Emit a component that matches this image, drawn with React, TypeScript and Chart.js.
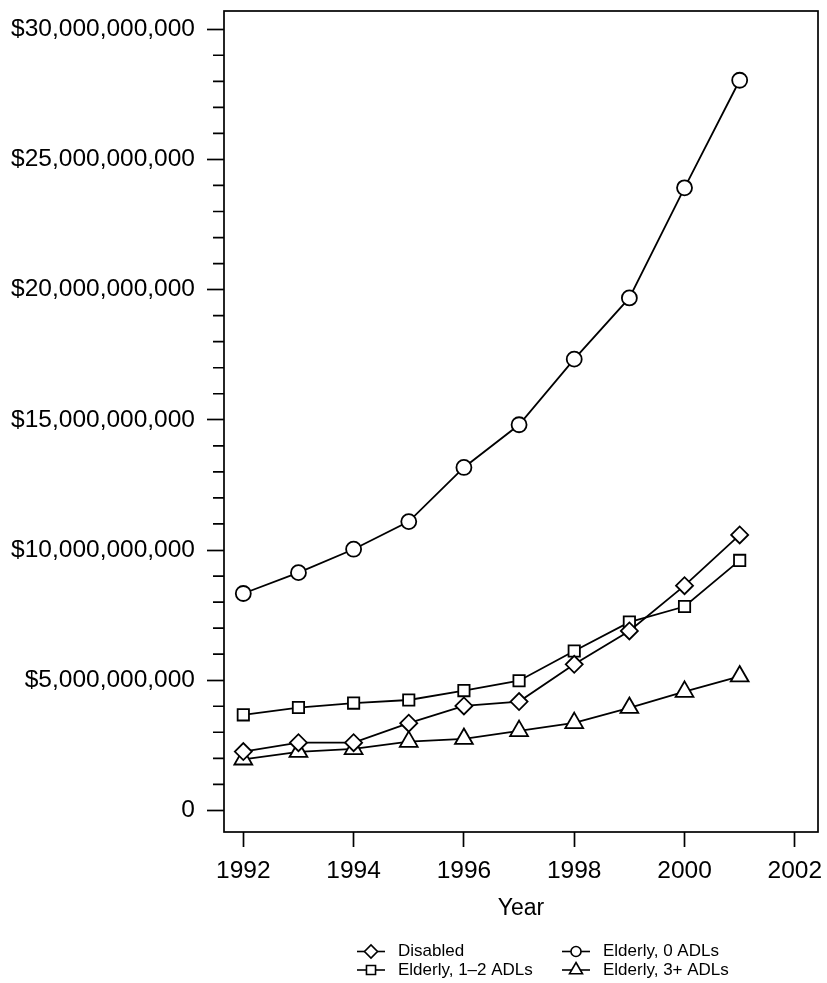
import React, { useEffect, useRef } from 'react';
import { Chart, registerables } from 'chart.js';
import { drawPoint } from 'chart.js/helpers';

Chart.register(...registerables);

// Values in billions of dollars
const years = [1992, 1993, 1994, 1995, 1996, 1997, 1998, 1999, 2000, 2001];
const disabled = [2.26, 2.6, 2.6, 3.35, 4.01, 4.18, 5.61, 6.89, 8.63, 10.58];
const elderly0 = [8.33, 9.13, 10.03, 11.09, 13.17, 14.81, 17.33, 19.68, 23.91, 28.04];
const elderly12 = [3.67, 3.95, 4.12, 4.24, 4.6, 4.98, 6.12, 7.23, 7.83, 9.6];
const elderly3 = [1.96, 2.25, 2.36, 2.64, 2.75, 3.05, 3.36, 3.94, 4.56, 5.15];

const xTickValues = [1992, 1994, 1996, 1998, 2000, 2002];
const yTickValues = Array.from({ length: 31 }, (_, i) => i); // 0..30 billion
const yMajorStep = 5;

const seriesLabels = ['Disabled', 'Elderly, 0 ADLs', 'Elderly, 1\u20132 ADLs', 'Elderly, 3+ ADLs'];
const seriesValues = [disabled, elderly0, elderly12, elderly3];
const seriesStyles = ['rectRot', 'circle', 'rect', 'triangle'];
const seriesRadius = [8.5, 7.5, 8, 10.3];
const legendRadius = [6.5, 5, 6.4, 7.5];

const FONT = '"Liberation Sans", Arial, Helvetica, sans-serif';

function fmtDollars(v: number): string {
  if (v === 0) return '0';
  const dollars = Math.round(v * 1e9);
  return '$' + dollars.toLocaleString('en-US');
}

const framePlugin = {
  id: 'framePlugin',
  afterDraw(chart: any) {
    const { ctx, chartArea } = chart;
    const y = chart.scales.y;
    ctx.save();
    ctx.strokeStyle = '#000';
    ctx.lineWidth = 1.7;
    ctx.strokeRect(chartArea.left, chartArea.top, chartArea.right - chartArea.left, chartArea.bottom - chartArea.top);
    // minor ticks on y axis
    ctx.beginPath();
    for (const v of yTickValues) {
      if (v % yMajorStep === 0) continue;
      const py = y.getPixelForValue(v);
      ctx.moveTo(chartArea.left - 11, py);
      ctx.lineTo(chartArea.left, py);
    }
    ctx.stroke();

    // legend (two columns)
    const cx = (chartArea.left + chartArea.right) / 2;
    const cols = [cx - 150, cx + 55];
    const rows = [951.5, 970];
    const order = [0, 1, 2, 3];
    ctx.font = '17px ' + FONT;
    ctx.textBaseline = 'middle';
    ctx.textAlign = 'left';
    order.forEach((di, k) => {
      const col = cols[k % 2];
      const row = rows[Math.floor(k / 2)];
      const ds = chart.data.datasets[di];
      ctx.strokeStyle = '#000';
      ctx.lineWidth = 1.6;
      ctx.beginPath();
      ctx.moveTo(col - 14, row);
      ctx.lineTo(col + 14, row);
      ctx.stroke();
      ctx.fillStyle = '#fff';
      ctx.strokeStyle = '#000';
      ctx.lineWidth = 1.6;
      drawPoint(ctx, { pointStyle: seriesStyles[di], rotation: 0, radius: legendRadius[di], borderWidth: 1.6 } as any, col, row);
      ctx.fillStyle = '#000';
      ctx.fillText(ds.label, col + 27, row);
    });
    ctx.restore();
  },
};

export default function App() {
  const ref = useRef<HTMLCanvasElement | null>(null);
  useEffect(() => {
    if (!ref.current) return;
    const chart = new Chart(ref.current, {
      type: 'line',
      data: {
        datasets: seriesLabels.map((label, i) => ({
          label,
          data: years.map((yr, j) => ({ x: yr, y: seriesValues[i][j] })),
          borderColor: '#000',
          borderWidth: 1.8,
          backgroundColor: '#fff',
          pointStyle: seriesStyles[i] as any,
          pointRadius: seriesRadius[i],
          pointBackgroundColor: '#fff',
          pointBorderColor: '#000',
          pointBorderWidth: 1.8,
          tension: 0,
          fill: false,
        })),
      },
      options: {
        animation: false,
        responsive: false,
        events: [],
        layout: { autoPadding: false, padding: { left: 0, top: 11, right: 9, bottom: 60.2 } },
        plugins: { legend: { display: false }, tooltip: { enabled: false }, title: { display: false } },
        scales: {
          x: {
            type: 'linear',
            min: 1991.65,
            max: 2002.42,
            afterBuildTicks: (s: any) => {
              s.ticks = xTickValues.map((v) => ({ value: v }));
            },
            afterFit: (s: any) => {
              s.height = 90.8;
              s.paddingLeft = 0;
              s.paddingRight = 0;
            },
            border: { display: false },
            grid: {
              display: true,
              drawOnChartArea: false,
              drawTicks: true,
              tickLength: 15,
              tickColor: '#000',
              tickWidth: 1.7,
            },
            ticks: {
              autoSkip: false,
              maxRotation: 0,
              padding: 9.5,
              color: '#000',
              font: { size: 24.5, family: FONT },
              callback: (v: any) => String(v),
            },
            title: {
              display: true,
              text: 'Year',
              color: '#000',
              font: { size: 23, family: FONT },
              padding: { top: 0, bottom: 0 },
            },
          },
          y: {
            type: 'linear',
            min: -0.83,
            max: 30.7,
            afterBuildTicks: (s: any) => {
              s.ticks = yTickValues.map((v) => ({ value: v }));
            },
            afterFit: (s: any) => {
              s.width = 224;
              s.paddingTop = 0;
              s.paddingBottom = 0;
            },
            border: { display: false },
            grid: {
              display: true,
              drawOnChartArea: false,
              drawTicks: true,
              tickLength: 17,
              tickWidth: 1.7,
              tickColor: (c: any) => (c.tick && c.tick.value % yMajorStep === 0 ? '#000' : 'rgba(0,0,0,0)'),
            },
            ticks: {
              autoSkip: false,
              padding: 12,
              color: '#000',
              font: { size: 24.5, family: FONT },
              callback: (v: any) => (Number(v) % yMajorStep === 0 ? fmtDollars(Number(v)) : ''),
            },
          },
        },
      },
      plugins: [framePlugin],
    });
    return () => chart.destroy();
  }, []);
  return (
    <div style={{ position: 'absolute', left: 0, top: 0, width: 827, height: 983, background: '#fff' }}>
      <canvas ref={ref} width={827} height={983} style={{ display: 'block' }} />
    </div>
  );
}
